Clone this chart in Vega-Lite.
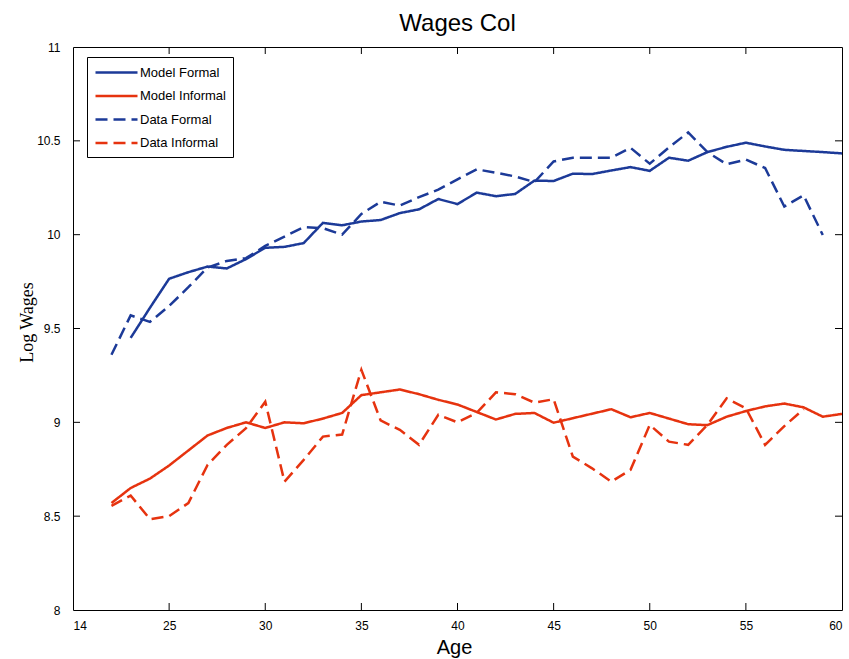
{
  "$schema": "https://vega.github.io/schema/vega-lite/v6.json",
  "width": 769,
  "height": 563,
  "autosize": {"type": "none"},
  "padding": {"left": 73, "top": 47, "right": 7, "bottom": 49},
  "background": "white",
  "title": {
    "text": "Wages Col",
    "font": "Liberation Sans",
    "fontSize": 24,
    "fontWeight": "normal",
    "color": "#000",
    "anchor": "middle",
    "offset": 5
  },
  "config": {
    "view": {"stroke": "#000", "strokeWidth": 1},
    "axis": {
      "domain": false,
      "ticks": false,
      "grid": false,
      "labelFont": "Liberation Sans",
      "labelFontSize": 12,
      "labelColor": "#000",
      "titleColor": "#000",
      "titleFontWeight": "normal"
    }
  },
  "datasets": {
    "wages": [
      {"age": 23, "series": "Model Formal", "wage": 9.45},
      {"age": 24, "series": "Model Formal", "wage": 9.61},
      {"age": 25, "series": "Model Formal", "wage": 9.765},
      {"age": 26, "series": "Model Formal", "wage": 9.8},
      {"age": 27, "series": "Model Formal", "wage": 9.83},
      {"age": 28, "series": "Model Formal", "wage": 9.82},
      {"age": 29, "series": "Model Formal", "wage": 9.87},
      {"age": 30, "series": "Model Formal", "wage": 9.93},
      {"age": 31, "series": "Model Formal", "wage": 9.935},
      {"age": 32, "series": "Model Formal", "wage": 9.955},
      {"age": 33, "series": "Model Formal", "wage": 10.063},
      {"age": 34, "series": "Model Formal", "wage": 10.05},
      {"age": 35, "series": "Model Formal", "wage": 10.07},
      {"age": 36, "series": "Model Formal", "wage": 10.078},
      {"age": 37, "series": "Model Formal", "wage": 10.115},
      {"age": 38, "series": "Model Formal", "wage": 10.135},
      {"age": 39, "series": "Model Formal", "wage": 10.19},
      {"age": 40, "series": "Model Formal", "wage": 10.163},
      {"age": 41, "series": "Model Formal", "wage": 10.224},
      {"age": 42, "series": "Model Formal", "wage": 10.205},
      {"age": 43, "series": "Model Formal", "wage": 10.217},
      {"age": 44, "series": "Model Formal", "wage": 10.288},
      {"age": 45, "series": "Model Formal", "wage": 10.286},
      {"age": 46, "series": "Model Formal", "wage": 10.325},
      {"age": 47, "series": "Model Formal", "wage": 10.323},
      {"age": 48, "series": "Model Formal", "wage": 10.342},
      {"age": 49, "series": "Model Formal", "wage": 10.36},
      {"age": 50, "series": "Model Formal", "wage": 10.34},
      {"age": 51, "series": "Model Formal", "wage": 10.41},
      {"age": 52, "series": "Model Formal", "wage": 10.394},
      {"age": 53, "series": "Model Formal", "wage": 10.44},
      {"age": 54, "series": "Model Formal", "wage": 10.468},
      {"age": 55, "series": "Model Formal", "wage": 10.49},
      {"age": 56, "series": "Model Formal", "wage": 10.47},
      {"age": 57, "series": "Model Formal", "wage": 10.452},
      {"age": 58, "series": "Model Formal", "wage": 10.446},
      {"age": 59, "series": "Model Formal", "wage": 10.44},
      {"age": 60, "series": "Model Formal", "wage": 10.433},

      {"age": 22, "series": "Model Informal", "wage": 8.57},
      {"age": 23, "series": "Model Informal", "wage": 8.65},
      {"age": 24, "series": "Model Informal", "wage": 8.7},
      {"age": 25, "series": "Model Informal", "wage": 8.77},
      {"age": 26, "series": "Model Informal", "wage": 8.85},
      {"age": 27, "series": "Model Informal", "wage": 8.93},
      {"age": 28, "series": "Model Informal", "wage": 8.97},
      {"age": 29, "series": "Model Informal", "wage": 9.0},
      {"age": 30, "series": "Model Informal", "wage": 8.97},
      {"age": 31, "series": "Model Informal", "wage": 9.0},
      {"age": 32, "series": "Model Informal", "wage": 8.995},
      {"age": 33, "series": "Model Informal", "wage": 9.02},
      {"age": 34, "series": "Model Informal", "wage": 9.05},
      {"age": 35, "series": "Model Informal", "wage": 9.145},
      {"age": 36, "series": "Model Informal", "wage": 9.16},
      {"age": 37, "series": "Model Informal", "wage": 9.175},
      {"age": 38, "series": "Model Informal", "wage": 9.15},
      {"age": 39, "series": "Model Informal", "wage": 9.12},
      {"age": 40, "series": "Model Informal", "wage": 9.095},
      {"age": 41, "series": "Model Informal", "wage": 9.055},
      {"age": 42, "series": "Model Informal", "wage": 9.015},
      {"age": 43, "series": "Model Informal", "wage": 9.045},
      {"age": 44, "series": "Model Informal", "wage": 9.05},
      {"age": 45, "series": "Model Informal", "wage": 8.998},
      {"age": 46, "series": "Model Informal", "wage": 9.022},
      {"age": 47, "series": "Model Informal", "wage": 9.046},
      {"age": 48, "series": "Model Informal", "wage": 9.07},
      {"age": 49, "series": "Model Informal", "wage": 9.027},
      {"age": 50, "series": "Model Informal", "wage": 9.05},
      {"age": 51, "series": "Model Informal", "wage": 9.02},
      {"age": 52, "series": "Model Informal", "wage": 8.99},
      {"age": 53, "series": "Model Informal", "wage": 8.985},
      {"age": 54, "series": "Model Informal", "wage": 9.03},
      {"age": 55, "series": "Model Informal", "wage": 9.06},
      {"age": 56, "series": "Model Informal", "wage": 9.085},
      {"age": 57, "series": "Model Informal", "wage": 9.1},
      {"age": 58, "series": "Model Informal", "wage": 9.08},
      {"age": 59, "series": "Model Informal", "wage": 9.03},
      {"age": 60, "series": "Model Informal", "wage": 9.045},

      {"age": 22, "series": "Data Formal", "wage": 9.36},
      {"age": 23, "series": "Data Formal", "wage": 9.57},
      {"age": 24, "series": "Data Formal", "wage": 9.535},
      {"age": 25, "series": "Data Formal", "wage": 9.62},
      {"age": 26, "series": "Data Formal", "wage": 9.72},
      {"age": 27, "series": "Data Formal", "wage": 9.825},
      {"age": 28, "series": "Data Formal", "wage": 9.86},
      {"age": 29, "series": "Data Formal", "wage": 9.875},
      {"age": 30, "series": "Data Formal", "wage": 9.94},
      {"age": 31, "series": "Data Formal", "wage": 9.99},
      {"age": 32, "series": "Data Formal", "wage": 10.04},
      {"age": 33, "series": "Data Formal", "wage": 10.035},
      {"age": 34, "series": "Data Formal", "wage": 10.0},
      {"age": 35, "series": "Data Formal", "wage": 10.11},
      {"age": 36, "series": "Data Formal", "wage": 10.175},
      {"age": 37, "series": "Data Formal", "wage": 10.155},
      {"age": 38, "series": "Data Formal", "wage": 10.2},
      {"age": 39, "series": "Data Formal", "wage": 10.24},
      {"age": 40, "series": "Data Formal", "wage": 10.295},
      {"age": 41, "series": "Data Formal", "wage": 10.348},
      {"age": 42, "series": "Data Formal", "wage": 10.33},
      {"age": 43, "series": "Data Formal", "wage": 10.31},
      {"age": 44, "series": "Data Formal", "wage": 10.28},
      {"age": 45, "series": "Data Formal", "wage": 10.39},
      {"age": 46, "series": "Data Formal", "wage": 10.41},
      {"age": 47, "series": "Data Formal", "wage": 10.41},
      {"age": 48, "series": "Data Formal", "wage": 10.41},
      {"age": 49, "series": "Data Formal", "wage": 10.463},
      {"age": 50, "series": "Data Formal", "wage": 10.378},
      {"age": 51, "series": "Data Formal", "wage": 10.465},
      {"age": 52, "series": "Data Formal", "wage": 10.545},
      {"age": 53, "series": "Data Formal", "wage": 10.44},
      {"age": 54, "series": "Data Formal", "wage": 10.375},
      {"age": 55, "series": "Data Formal", "wage": 10.4},
      {"age": 56, "series": "Data Formal", "wage": 10.355},
      {"age": 57, "series": "Data Formal", "wage": 10.15},
      {"age": 58, "series": "Data Formal", "wage": 10.21},
      {"age": 59, "series": "Data Formal", "wage": 9.998},

      {"age": 22, "series": "Data Informal", "wage": 8.555},
      {"age": 23, "series": "Data Informal", "wage": 8.61},
      {"age": 24, "series": "Data Informal", "wage": 8.484},
      {"age": 25, "series": "Data Informal", "wage": 8.5},
      {"age": 26, "series": "Data Informal", "wage": 8.57},
      {"age": 27, "series": "Data Informal", "wage": 8.773},
      {"age": 28, "series": "Data Informal", "wage": 8.88},
      {"age": 29, "series": "Data Informal", "wage": 8.969},
      {"age": 30, "series": "Data Informal", "wage": 9.11},
      {"age": 31, "series": "Data Informal", "wage": 8.684},
      {"age": 32, "series": "Data Informal", "wage": 8.8},
      {"age": 33, "series": "Data Informal", "wage": 8.924},
      {"age": 34, "series": "Data Informal", "wage": 8.935},
      {"age": 35, "series": "Data Informal", "wage": 9.28},
      {"age": 36, "series": "Data Informal", "wage": 9.01},
      {"age": 37, "series": "Data Informal", "wage": 8.96},
      {"age": 38, "series": "Data Informal", "wage": 8.88},
      {"age": 39, "series": "Data Informal", "wage": 9.04},
      {"age": 40, "series": "Data Informal", "wage": 9.0},
      {"age": 41, "series": "Data Informal", "wage": 9.05},
      {"age": 42, "series": "Data Informal", "wage": 9.16},
      {"age": 43, "series": "Data Informal", "wage": 9.15},
      {"age": 44, "series": "Data Informal", "wage": 9.105},
      {"age": 45, "series": "Data Informal", "wage": 9.123},
      {"age": 46, "series": "Data Informal", "wage": 8.817},
      {"age": 47, "series": "Data Informal", "wage": 8.755},
      {"age": 48, "series": "Data Informal", "wage": 8.684},
      {"age": 49, "series": "Data Informal", "wage": 8.747},
      {"age": 50, "series": "Data Informal", "wage": 8.986},
      {"age": 51, "series": "Data Informal", "wage": 8.897},
      {"age": 52, "series": "Data Informal", "wage": 8.88},
      {"age": 53, "series": "Data Informal", "wage": 8.986},
      {"age": 54, "series": "Data Informal", "wage": 9.128},
      {"age": 55, "series": "Data Informal", "wage": 9.075},
      {"age": 56, "series": "Data Informal", "wage": 8.88},
      {"age": 57, "series": "Data Informal", "wage": 8.98},
      {"age": 58, "series": "Data Informal", "wage": 9.07}
    ],
    "ageTicks": [
      {"age": 25}, {"age": 30}, {"age": 35}, {"age": 40},
      {"age": 45}, {"age": 50}, {"age": 55}
    ],
    "wageTicks": [
      {"wage": 8.5}, {"wage": 9}, {"wage": 9.5}, {"wage": 10}, {"wage": 10.5}
    ]
  },
  "layer": [
    {
      "data": {"name": "ageTicks"},
      "mark": {"type": "tick", "orient": "vertical", "size": 14, "thickness": 1, "color": "#000", "opacity": 1, "clip": true},
      "encoding": {
        "x": {"field": "age", "type": "quantitative", "scale": {"domain": [20, 60], "nice": false, "zero": false}},
        "y": {"datum": 8, "type": "quantitative", "scale": {"domain": [8, 11], "nice": false, "zero": false}}
      }
    },
    {
      "data": {"name": "ageTicks"},
      "mark": {"type": "tick", "orient": "vertical", "size": 14, "thickness": 1, "color": "#000", "opacity": 1, "clip": true},
      "encoding": {
        "x": {"field": "age", "type": "quantitative"},
        "y": {"datum": 11, "type": "quantitative"}
      }
    },
    {
      "data": {"name": "wageTicks"},
      "mark": {"type": "tick", "orient": "horizontal", "size": 14, "thickness": 1, "color": "#000", "opacity": 1, "clip": true},
      "encoding": {
        "x": {"datum": 20, "type": "quantitative"},
        "y": {"field": "wage", "type": "quantitative"}
      }
    },
    {
      "data": {"name": "wageTicks"},
      "mark": {"type": "tick", "orient": "horizontal", "size": 14, "thickness": 1, "color": "#000", "opacity": 1, "clip": true},
      "encoding": {
        "x": {"datum": 60, "type": "quantitative"},
        "y": {"field": "wage", "type": "quantitative"}
      }
    },
    {
      "data": {"name": "wages"},
      "mark": {"type": "line", "strokeWidth": 2.5, "clip": true},
      "encoding": {
        "x": {
          "field": "age",
          "type": "quantitative",
          "scale": {"domain": [20, 60], "nice": false, "zero": false},
          "axis": {
            "orient": "bottom",
            "values": [20, 25, 30, 35, 40, 45, 50, 55, 60],
            "labelExpr": "datum.value == 20 ? '14' : datum.label",
            "labelPadding": 10,
            "title": "Age",
            "titleFont": "Liberation Sans",
            "titleFontSize": 20,
            "titleX": 381,
            "titleY": 37,
            "titleBaseline": "middle",
            "titleAlign": "center"
          }
        },
        "y": {
          "field": "wage",
          "type": "quantitative",
          "scale": {"domain": [8, 11], "nice": false, "zero": false},
          "axis": {
            "orient": "left",
            "values": [8, 8.5, 9, 9.5, 10, 10.5, 11],
            "format": "~g",
            "labelPadding": 13,
            "title": "Log Wages",
            "titleFont": "Liberation Serif",
            "titleFontSize": 18,
            "titleAngle": -90,
            "titleX": -46,
            "titleY": 275,
            "titleBaseline": "middle",
            "titleAlign": "center"
          }
        },
        "color": {
          "field": "series",
          "type": "nominal",
          "scale": {
            "domain": ["Model Formal", "Model Informal", "Data Formal", "Data Informal"],
            "range": ["#1c3a98", "#e6330f", "#1c3a98", "#e6330f"]
          },
          "legend": {
            "title": null,
            "orient": "none",
            "legendX": 14,
            "legendY": 10,
            "symbolType": "M-1,0H5",
            "symbolSize": 196,
            "symbolStrokeWidth": 2.5,
            "labelFont": "Liberation Sans",
            "labelFontSize": 13,
            "labelColor": "#000",
            "labelOffset": 29,
            "padding": 7,
            "rowPadding": 7.5,
            "strokeColor": "#000",
            "fillColor": "#fff"
          }
        },
        "strokeDash": {
          "field": "series",
          "type": "nominal",
          "scale": {
            "domain": ["Model Formal", "Model Informal", "Data Formal", "Data Informal"],
            "range": [[1, 0], [1, 0], [12, 6], [12, 6]]
          },
          "legend": {
            "title": null,
            "orient": "none",
            "legendX": 14,
            "legendY": 10,
            "symbolType": "M-1,0H5",
            "symbolSize": 196,
            "symbolStrokeWidth": 2.5,
            "labelFont": "Liberation Sans",
            "labelFontSize": 13,
            "labelColor": "#000",
            "labelOffset": 29,
            "padding": 7,
            "rowPadding": 7.5,
            "strokeColor": "#000",
            "fillColor": "#fff"
          }
        }
      }
    }
  ]
}
